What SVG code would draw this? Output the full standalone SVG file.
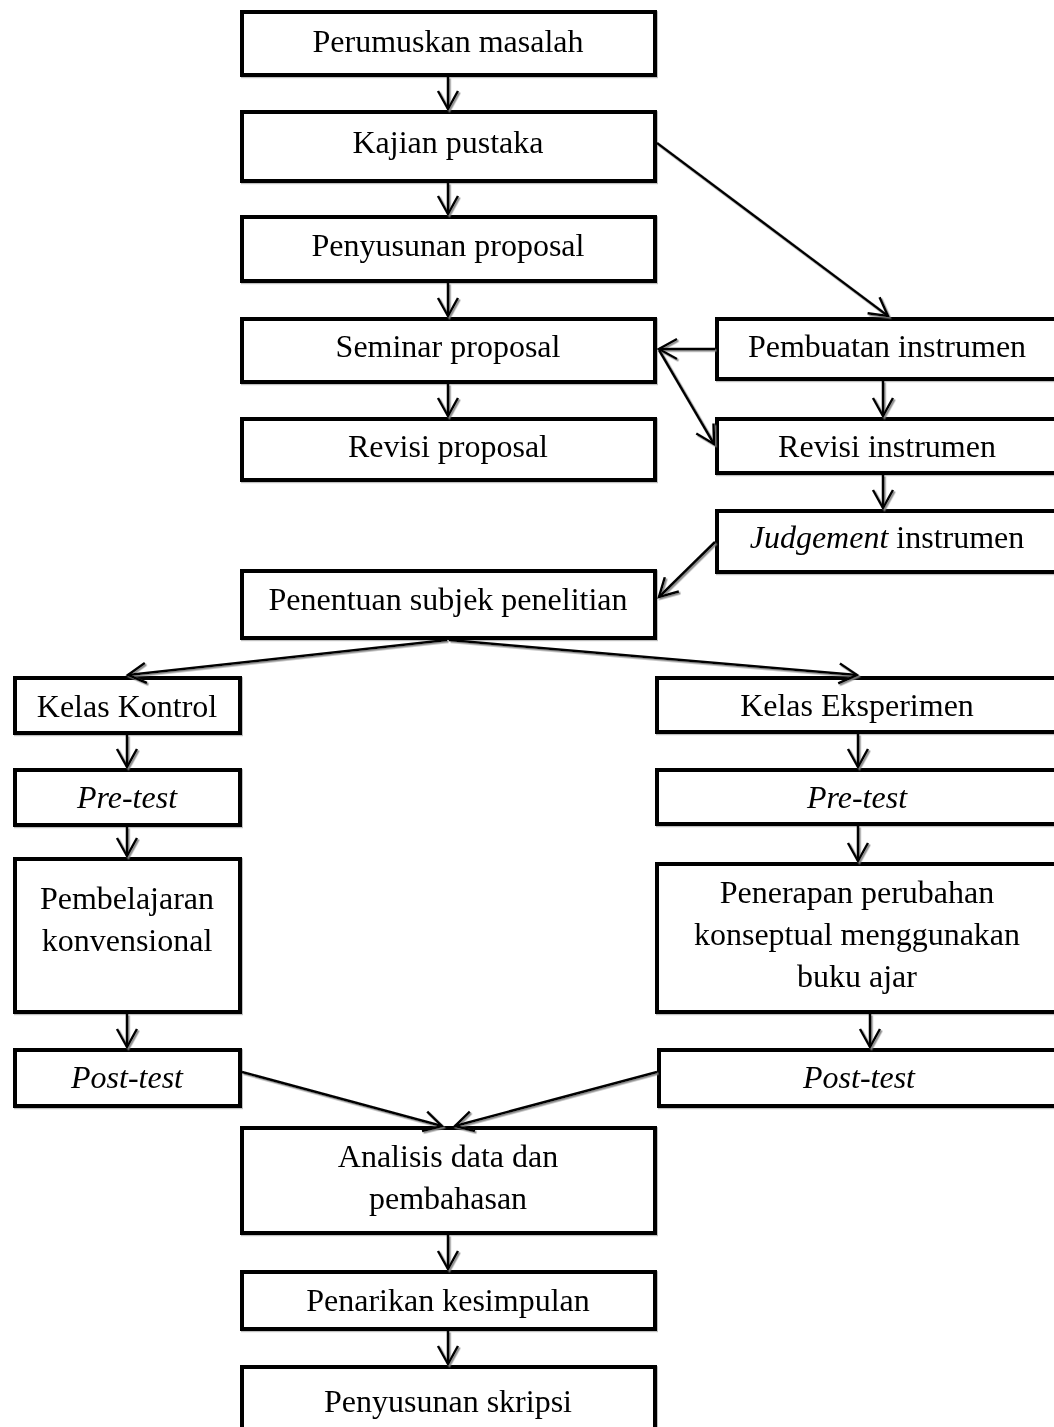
<svg xmlns="http://www.w3.org/2000/svg" width="1054" height="1427" viewBox="0 0 1054 1427">
<style>
.box rect{fill:#fff;stroke:#000;stroke-width:4}
.box text{font-family:"Liberation Serif","Times New Roman",serif;font-size:32px;fill:#000;text-anchor:middle}
.it{font-style:italic}
#connectors path{fill:none;stroke:#000;stroke-width:2.5;marker-end:url(#arr)}
</style>
<defs>
<marker id="arr" markerUnits="userSpaceOnUse" markerWidth="40" markerHeight="40" refX="0" refY="0" orient="auto" overflow="visible">
<path d="M-18,-10 L0,0 L-18,10" fill="none" stroke="#000" stroke-width="2.5" stroke-linejoin="miter"/>
</marker>
<filter id="sh" x="-5%" y="-5%" width="110%" height="110%">
<feDropShadow dx="1.5" dy="1.5" stdDeviation="0.4" flood-color="#808080" flood-opacity="0.9"/>
</filter>
<filter id="bsh" x="-5%" y="-5%" width="110%" height="110%">
<feDropShadow dx="1" dy="1.2" stdDeviation="0.4" flood-color="#808080" flood-opacity="0.5"/>
</filter>
</defs>
<rect width="1054" height="1427" fill="#fff"/>
<g filter="url(#bsh)">
<g class="box" id="perumuskan"><rect x="242" y="12" width="413" height="63"/><text x="448" y="52">Perumuskan masalah</text></g>
<g class="box" id="kajian"><rect x="242" y="112" width="413" height="69"/><text x="448" y="153">Kajian pustaka</text></g>
<g class="box" id="penyusunan-proposal"><rect x="242" y="217" width="413" height="64"/><text x="448" y="256">Penyusunan proposal</text></g>
<g class="box" id="seminar"><rect x="242" y="319" width="413" height="63"/><text x="448" y="357">Seminar proposal</text></g>
<g class="box" id="revisi-proposal"><rect x="242" y="419" width="413" height="61"/><text x="448" y="457">Revisi proposal</text></g>
<g class="box" id="penentuan"><rect x="242" y="571" width="413" height="67"/><text x="448" y="610">Penentuan subjek penelitian</text></g>
<g class="box" id="pembuatan"><rect x="717" y="319" width="345" height="60"/><text x="887" y="357">Pembuatan instrumen</text></g>
<g class="box" id="revisi-instrumen"><rect x="717" y="419" width="345" height="54"/><text x="887" y="457">Revisi instrumen</text></g>
<g class="box" id="judgement"><rect x="717" y="511" width="345" height="61"/><text x="887" y="548"><tspan class="it">Judgement</tspan> instrumen</text></g>
<g class="box" id="kelas-kontrol"><rect x="15" y="678" width="225" height="55"/><text x="127" y="717">Kelas Kontrol</text></g>
<g class="box" id="pretest-kontrol"><rect x="15" y="770" width="225" height="55"/><text x="127" y="808" class="it">Pre-test</text></g>
<g class="box" id="pembelajaran"><rect x="15" y="859" width="225" height="153"/><text x="127" y="909">Pembelajaran</text><text x="127" y="951">konvensional</text></g>
<g class="box" id="posttest-kontrol"><rect x="15" y="1050" width="225" height="56"/><text x="127" y="1088" class="it">Post-test</text></g>
<g class="box" id="kelas-eksperimen"><rect x="657" y="678" width="405" height="54"/><text x="857" y="716">Kelas Eksperimen</text></g>
<g class="box" id="pretest-eksperimen"><rect x="657" y="770" width="405" height="54"/><text x="857" y="808" class="it">Pre-test</text></g>
<g class="box" id="penerapan"><rect x="657" y="864" width="405" height="148"/><text x="857" y="903">Penerapan perubahan</text><text x="857" y="945">konseptual menggunakan</text><text x="857" y="987">buku ajar</text></g>
<g class="box" id="posttest-eksperimen"><rect x="659" y="1050" width="403" height="56"/><text x="859" y="1088" class="it">Post-test</text></g>
<g class="box" id="analisis"><rect x="242" y="1128" width="413" height="105"/><text x="448" y="1167">Analisis data dan</text><text x="448" y="1209">pembahasan</text></g>
<g class="box" id="penarikan"><rect x="242" y="1272" width="413" height="57"/><text x="448" y="1311">Penarikan kesimpulan</text></g>
<g class="box" id="penyusunan-skripsi"><rect x="242" y="1367" width="413" height="80"/><text x="448" y="1412">Penyusunan skripsi</text></g>
</g>
<g id="connectors" filter="url(#sh)">
<path d="M448,77 L448,109"/>
<path d="M448,183 L448,214"/>
<path d="M448,283 L448,316"/>
<path d="M448,384 L448,416"/>
<path d="M657,143 L888,316"/>
<path d="M715,349 L659,349"/>
<path d="M659,350 L714,444"/>
<path d="M883,381 L883,416"/>
<path d="M883,475 L883,508"/>
<path d="M715,542 L659,597"/>
<path d="M447,640 L128,675"/>
<path d="M449,640 L857,675"/>
<path d="M127,735 L127,767"/>
<path d="M127,827 L127,856"/>
<path d="M127,1014 L127,1047"/>
<path d="M858,734 L858,767"/>
<path d="M858,826 L858,861"/>
<path d="M870,1014 L870,1047"/>
<path d="M242,1072 L442,1126"/>
<path d="M657,1072 L455,1126"/>
<path d="M448,1235 L448,1269"/>
<path d="M448,1331 L448,1364"/>
</g>
</svg>
